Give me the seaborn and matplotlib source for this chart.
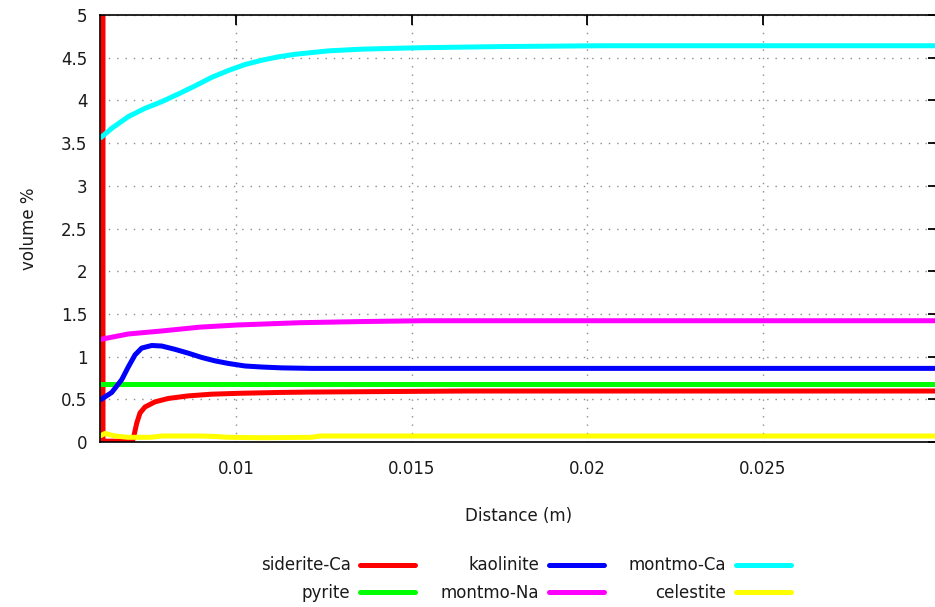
import numpy as np
import pandas as pd
import matplotlib
matplotlib.use("Agg")
import matplotlib.pyplot as plt
import seaborn as sns
from matplotlib.lines import Line2D
from matplotlib.ticker import FixedLocator, FixedFormatter

# ---- data ----
series_names = ["siderite-Ca", "pyrite", "kaolinite", "montmo-Na", "montmo-Ca", "celestite"]
series_colors = ["#ff0000", "#00ff00", "#0000ff", "#ff00ff", "#00ffff", "#ffff00"]

siderite_x = [0.00621, 0.00621, 0.0066, 0.00705, 0.007074, 0.007171, 0.007265, 0.007407, 0.007692,
              0.008071, 0.008641, 0.009308, 0.010066, 0.011205, 0.012157, 0.016581, 0.020, 0.025, 0.030]
siderite_y = [12.0, 0.01, 0.01, 0.01, 0.04, 0.22, 0.34, 0.41, 0.47,
              0.51, 0.54, 0.56, 0.57, 0.58, 0.585, 0.597, 0.597, 0.597, 0.597]

pyrite_x = [0.006125, 0.010, 0.015, 0.020, 0.025, 0.030]
pyrite_y = [0.677, 0.677, 0.677, 0.677, 0.677, 0.677]

kaolinite_x = [0.006125, 0.006459, 0.006744, 0.006932, 0.007123, 0.007313, 0.007598, 0.007883,
               0.008262, 0.008641, 0.009023, 0.009402, 0.009781, 0.010256, 0.010732, 0.011302,
               0.012157, 0.015, 0.020, 0.025, 0.030]
kaolinite_y = [0.49, 0.58, 0.73, 0.88, 1.02, 1.10, 1.13, 1.124,
               1.085, 1.04, 0.99, 0.95, 0.92, 0.89, 0.878, 0.868,
               0.862, 0.862, 0.862, 0.862, 0.862]

montmo_na_x = [0.006125, 0.006932, 0.007883, 0.008974, 0.010028, 0.011823, 0.013533, 0.015328,
               0.020, 0.025, 0.030]
montmo_na_y = [1.20, 1.265, 1.30, 1.345, 1.37, 1.397, 1.41, 1.42,
               1.42, 1.42, 1.42]

montmo_ca_x = [0.006125, 0.006459, 0.006932, 0.007407, 0.007883, 0.008356, 0.008832, 0.009308,
               0.009781, 0.010256, 0.010732, 0.011205, 0.011681, 0.012630, 0.013581, 0.014530,
               0.015291, 0.0175, 0.0204, 0.025, 0.030]
montmo_ca_y = [3.556, 3.673, 3.81, 3.907, 3.985, 4.075, 4.17, 4.27,
               4.35, 4.42, 4.47, 4.51, 4.54, 4.58, 4.60, 4.61,
               4.617, 4.63, 4.64, 4.64, 4.64]

celestite_x = [0.006125, 0.006268, 0.006553, 0.006923, 0.00755, 0.007892, 0.008974, 0.009402,
               0.009772, 0.010741, 0.012137, 0.012393, 0.015, 0.020, 0.025, 0.030]
celestite_y = [0.07, 0.10, 0.07, 0.055, 0.055, 0.07, 0.07, 0.065,
               0.055, 0.05, 0.055, 0.07, 0.07, 0.07, 0.07, 0.07]

x_ticks = [0.01, 0.015, 0.02, 0.025]
x_tick_labels = ["0.01", "0.015", "0.02", "0.025"]
y_ticks = [0, 0.5, 1, 1.5, 2, 2.5, 3, 3.5, 4, 4.5, 5]
y_tick_labels = ["0", "0.5", "1", "1.5", "2", "2.5", "3", "3.5", "4", "4.5", "5"]

x_label = "Distance (m)"
y_label = "volume %"

# ---- build long table ----
frames = []
for name, xs, ys in zip(series_names,
                        [siderite_x, pyrite_x, kaolinite_x, montmo_na_x, montmo_ca_x, celestite_x],
                        [siderite_y, pyrite_y, kaolinite_y, montmo_na_y, montmo_ca_y, celestite_y]):
    frames.append(pd.DataFrame({"x": xs, "y": ys, "mineral": name, "order": range(len(xs))}))
df = pd.concat(frames, ignore_index=True)

sns.set_style("white")
plt.rcParams["font.family"] = ["DejaVu Sans"]

FS = 12
fig = plt.figure(figsize=(9.35, 6.07), dpi=100)
ax = fig.add_axes([100 / 935, 1 - 442 / 607, (938 - 100) / 935, (442 - 15) / 607])

palette = dict(zip(series_names, series_colors))
sns.lineplot(data=df, x="x", y="y", hue="mineral", hue_order=series_names, units="mineral",
             palette=palette, estimator=None, sort=False, linewidth=3.6,
             legend=False, ax=ax)
for ln in ax.get_lines():
    ln.set_solid_joinstyle("round")
    ln.set_solid_capstyle("butt")

ax.set_xlim(0.006125, 0.03)
ax.set_ylim(0, 5)
ax.xaxis.set_major_locator(FixedLocator(x_ticks))
ax.xaxis.set_major_formatter(FixedFormatter(x_tick_labels))
ax.yaxis.set_major_locator(FixedLocator(y_ticks))
ax.yaxis.set_major_formatter(FixedFormatter(y_tick_labels))

ax.grid(True, linestyle=(0, (1, 5)), color="#8c8c8c", linewidth=1.0)
ax.tick_params(axis="both", direction="in", length=7, width=1.3, colors="black",
               labelsize=FS, top=True, right=True, labelcolor="#1a1a1a")
ax.tick_params(axis="x", pad=13)
ax.tick_params(axis="y", pad=9)
for sp in ax.spines.values():
    sp.set_color("black")
    sp.set_linewidth(1.2)

ax.set_xlabel(x_label, fontsize=FS, color="#1a1a1a", labelpad=21)
ax.set_ylabel(y_label, fontsize=FS, color="#1a1a1a", labelpad=17)

handles = [Line2D([0], [0], color=c, linewidth=3.6) for c in series_colors]
leg = ax.legend(handles, series_names, ncol=3, loc="center",
                bbox_to_anchor=(526 / 935, 1 - 579 / 607), bbox_transform=fig.transFigure,
                frameon=False, markerfirst=False, fontsize=FS, handlelength=3.3,
                columnspacing=1.5, labelspacing=0.55, handletextpad=0.6)
for t in leg.get_texts():
    t.set_ha("right")
    t.set_color("#1a1a1a")

fig.savefig("out.png", dpi=100)
